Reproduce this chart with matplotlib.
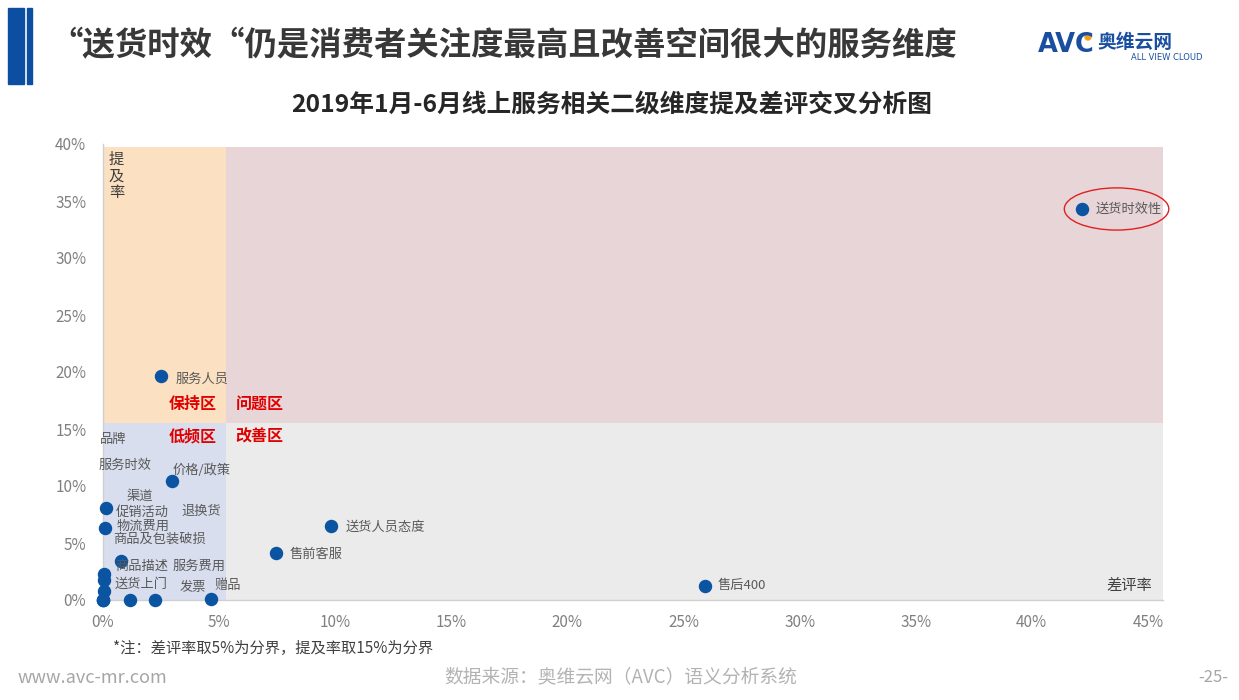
import matplotlib
matplotlib.use('Agg')
import matplotlib.pyplot as plt
from matplotlib.patches import Rectangle, Ellipse
from matplotlib.ticker import FuncFormatter

plt.rcParams['font.family'] = ['Noto Sans CJK SC', 'DejaVu Sans']

# data: 差评率 (x, %) / 提及率 (y, %)
names = ['送货时效性', '服务人员', '送货人员态度', '售前客服', '售后400',
         '价格/政策', '促销活动', '物流费用', '商品描述', '商品及包装破损',
         '渠道', '送货上门', '品牌', '服务时效', '退换货', '发票', '服务费用', '赠品']
bad_rate = [42.15, 2.49, 9.80, 7.43, 25.92,
            2.96, 0.13, 0.10, 0.76, 0.05,
            0.05, 0.05, 0.00, 0.00, 1.16, 2.26, 0.00, 4.65]
mention_rate = [34.3, 19.65, 6.5, 4.1, 1.23,
                10.47, 8.04, 6.30, 3.45, 2.28,
                1.75, 0.80, 0.00, 0.00, 0.00, 0.00, 0.00, 0.06]
x_ticks = [0, 5, 10, 15, 20, 25, 30, 35, 40, 45]
y_ticks = [0, 5, 10, 15, 20, 25, 30, 35, 40]
x_split = 5.3
y_split = 15.5

# label offsets in pixels (manual placement like the original)
label_off = {
    '送货时效性': (14, 0), '服务人员': (15, -3), '送货人员态度': (15, -1),
    '售前客服': (14, -1), '售后400': (13, 0), '价格/政策': (1, 10),
    '促销活动': (10, -4), '物流费用': (11, 2), '商品描述': (-5, -6),
    '商品及包装破损': (9, 35), '渠道': (22, 84), '送货上门': (11, 7),
    '品牌': (-3, 161), '服务时效': (-4, 135), '退换货': (52, 89),
    '发票': (24, 12), '服务费用': (70, 34), '赠品': (3, 14),
}

W, H = 1239, 700
fig = plt.figure(figsize=(W / 100, H / 100), dpi=100)

def fx(px):
    return px / W

def fy(py):
    return 1 - py / H

ax = fig.add_axes([fx(103), fy(600), fx(1163) - fx(103), fy(144) - fy(600)])
xmax = 45.65
ymax = 40
ax.set_xlim(0, xmax)
ax.set_ylim(0, ymax)

top = 39.75
ax.add_patch(Rectangle((0, y_split), x_split, top - y_split, color='#FBE0C1', lw=0, zorder=0))
ax.add_patch(Rectangle((x_split, y_split), xmax - x_split, top - y_split, color='#E8D5D7', lw=0, zorder=0))
ax.add_patch(Rectangle((0, 0), x_split, y_split, color='#D8DEED', lw=0, zorder=0))
ax.add_patch(Rectangle((x_split, 0), xmax - x_split, y_split, color='#EBEBEB', lw=0, zorder=0))

ax.scatter(bad_rate, mention_rate, s=75, color='#0B54A2', zorder=3, clip_on=False)
for n, xv, yv in zip(names, bad_rate, mention_rate):
    dx, dy = label_off[n]
    ax.annotate(n, (xv, yv), xytext=(dx, dy), textcoords='offset pixels',
                ha='left', va='center', fontsize=9.5, color='#595959', zorder=4)

# red circle round the top point
ax.add_patch(Ellipse((43.65, 34.3), 4.5, 3.7, fill=False, edgecolor='#E02020', lw=1,
                     zorder=4, clip_on=False))

# quadrant names
qkw = dict(ha='center', va='center', fontsize=11.5, color='#E00000', fontweight='bold')
ax.text(x_split - 1.45, y_split + 1.7, '保持区', **qkw)
ax.text(x_split + 1.45, y_split + 1.7, '问题区', **qkw)
ax.text(x_split - 1.45, y_split - 1.15, '低频区', **qkw)
ax.text(x_split + 1.45, y_split - 1.15, '改善区', **qkw)

ax.text(0.25, 39.4, '提\n及\n率', ha='left', va='top', fontsize=11, color='#404040', linespacing=0.95)
ax.text(45.2, 1.3, '差评率', ha='right', va='center', fontsize=11, color='#404040')

ax.set_xticks(x_ticks)
ax.set_yticks(y_ticks)
pct = FuncFormatter(lambda v, p: '%d%%' % v)
ax.xaxis.set_major_formatter(pct)
ax.yaxis.set_major_formatter(pct)
ax.tick_params(length=0, labelsize=11, labelcolor='#808080')
ax.tick_params(axis='x', pad=10)
ax.tick_params(axis='y', pad=12)
for s in ['top', 'right']:
    ax.spines[s].set_visible(False)
for s in ['left', 'bottom']:
    ax.spines[s].set_color('#D0D0D0')
    ax.spines[s].set_linewidth(1)

# header
fig.patches.append(Rectangle((fx(8), fy(84)), fx(16), fy(8) - fy(84), color='#0B4EA2', transform=fig.transFigure))
fig.patches.append(Rectangle((fx(27), fy(84)), fx(5), fy(8) - fy(84), color='#0B4EA2', transform=fig.transFigure))
fig.text(fx(50), fy(46), '“送货时效“仍是消费者关注度最高且改善空间很大的服务维度',
         ha='left', va='center', fontsize=23.3, fontweight='bold', color='#383838')
fig.text(fx(612), fy(105), '2019年1月-6月线上服务相关二级维度提及差评交叉分析图',
         ha='center', va='center', fontsize=17.8, fontweight='bold', color='#262626')

# logo
fig.text(fx(1038), fy(45), 'AVC', ha='left', va='center', fontsize=18.5, fontweight='bold',
         color='#1A4FA0', family='DejaVu Sans')
fig.patches.append(Ellipse((fx(1088), fy(37)), 6 / W, 6 / H, color='#F0A020',
                           transform=fig.transFigure))
fig.text(fx(1097), fy(42), '奥维云网', ha='left', va='center', fontsize=13.5, fontweight='bold', color='#1A4FA0')
fig.text(fx(1131), fy(57), 'ALL VIEW CLOUD', ha='left', va='center', fontsize=6, color='#1A4FA0',
         family='DejaVu Sans')

# footer
fig.text(fx(113), fy(648), '*注：差评率取5%为分界，提及率取15%为分界', ha='left', va='center',
         fontsize=11, color='#404040')
fig.text(fx(18), fy(678), 'www.avc-mr.com', ha='left', va='center', fontsize=13, color='#A6A6A6')
fig.text(fx(621), fy(678), '数据来源：奥维云网（AVC）语义分析系统', ha='center', va='center',
         fontsize=13.5, color='#B3B3B3')
fig.text(fx(1228), fy(678), '-25-', ha='right', va='center', fontsize=12, color='#A6A6A6')

fig.savefig('out.png', dpi=100)
